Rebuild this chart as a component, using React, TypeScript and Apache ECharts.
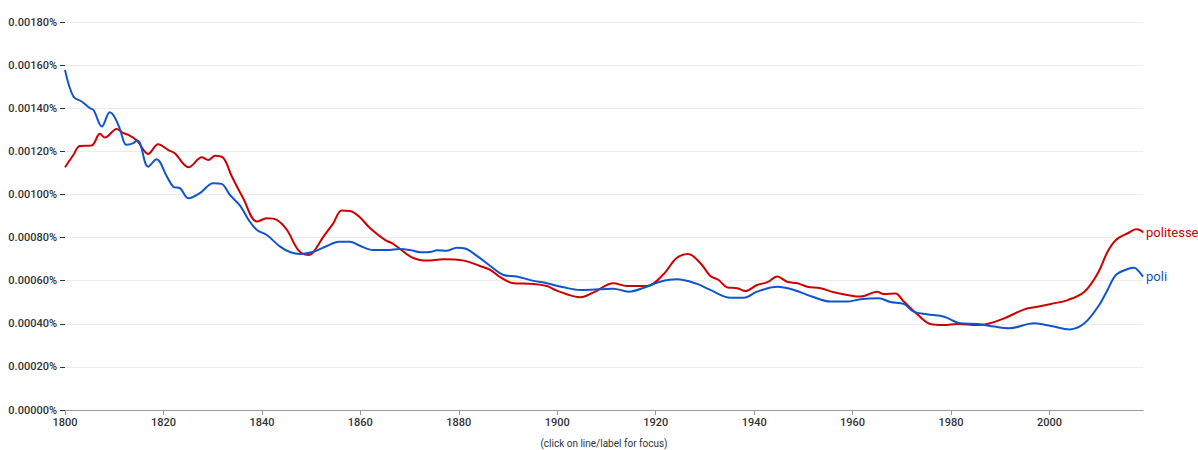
import React, { useEffect, useRef } from "react";
import * as echarts from "echarts";

const poliYears = [1800, 1801.7, 1803.4, 1805.1, 1805.8, 1807.5, 1809.1, 1810.2, 1811.2, 1812.5, 1813.9, 1814.6, 1815.2, 1816.9, 1818.6, 1820.7, 1822, 1823.4, 1825.1, 1827.4, 1830.1, 1831.8, 1833.5, 1835.6, 1837.3, 1839, 1841, 1843.7, 1845.8, 1847.8, 1850.5, 1853.2, 1855.6, 1857.9, 1859.9, 1862.6, 1865.4, 1868.1, 1870.1, 1872.2, 1874.2, 1875.6, 1877.6, 1879.6, 1881.3, 1883.7, 1886.4, 1889.1, 1891.8, 1895.2, 1897.9, 1901.3, 1904.7, 1908.7, 1911.4, 1914.5, 1918.2, 1920.9, 1924.3, 1928.4, 1931.1, 1935.2, 1937.9, 1940.6, 1944.7, 1948.1, 1951.4, 1955.5, 1958.9, 1961.6, 1965.3, 1967.7, 1970.4, 1972.4, 1975.1, 1978.6, 1981.9, 1985.4, 1988.8, 1991.8, 1996.9, 2000.3, 2004.1, 2007.1, 2010.1, 2011.8, 2013.5, 2015.9, 2017.2, 2018.2, 2019];
const poliValues = [0.001578, 0.001454, 0.001431, 0.0014, 0.001392, 0.001315, 0.001381, 0.001354, 0.0013, 0.00123, 0.001238, 0.00125, 0.00124, 0.001129, 0.001163, 0.001083, 0.001036, 0.001028, 0.000982, 0.001006, 0.001052, 0.001049, 0.000998, 0.000947, 0.000882, 0.000835, 0.000812, 0.000758, 0.000732, 0.000724, 0.000734, 0.000761, 0.000781, 0.000781, 0.000762, 0.000742, 0.000742, 0.000747, 0.000742, 0.000732, 0.000733, 0.000741, 0.000739, 0.000753, 0.000749, 0.000715, 0.000668, 0.000626, 0.000619, 0.000599, 0.000588, 0.000569, 0.000557, 0.00056, 0.000563, 0.000549, 0.000572, 0.000595, 0.000606, 0.000585, 0.000557, 0.000521, 0.000521, 0.000549, 0.000572, 0.000557, 0.000529, 0.000503, 0.000503, 0.000514, 0.000518, 0.000501, 0.000492, 0.000456, 0.000444, 0.000433, 0.000402, 0.000399, 0.000387, 0.000379, 0.000402, 0.00039, 0.000374, 0.000402, 0.000487, 0.000557, 0.000626, 0.000654, 0.00066, 0.000642, 0.000619];

const politesseYears = [1800, 1801.7, 1803, 1805.4, 1807.1, 1808.1, 1810.5, 1811.9, 1812.9, 1814.6, 1816.9, 1818.9, 1821, 1822.3, 1825.1, 1827.8, 1829.1, 1830.5, 1832.2, 1833.9, 1836.2, 1839, 1841, 1843, 1845.1, 1847.4, 1849.5, 1850.5, 1852.5, 1854.5, 1856.2, 1857.9, 1859.9, 1862, 1865, 1866.7, 1870.5, 1873.5, 1876.9, 1881, 1884.3, 1886.4, 1888.4, 1891.1, 1895.2, 1897.9, 1899.9, 1904.7, 1907.4, 1911.4, 1914.2, 1918.2, 1921.6, 1924.2, 1926.6, 1929.1, 1931.1, 1932.8, 1934.5, 1936.6, 1938.2, 1940.6, 1942.7, 1944.7, 1946.7, 1948.8, 1950.8, 1953.5, 1956.2, 1958.9, 1961.6, 1965, 1966.3, 1968.7, 1970.4, 1973.1, 1975.8, 1978.6, 1981.3, 1985.4, 1987.4, 1990.8, 1994.9, 1997.6, 2000.3, 2003.7, 2007.1, 2009.8, 2011.8, 2013.5, 2015.9, 2017.6, 2018.6, 2019];
const politesseValues = [0.001126, 0.001183, 0.001225, 0.001227, 0.001281, 0.001264, 0.001304, 0.001284, 0.001276, 0.00125, 0.001188, 0.001233, 0.001206, 0.001191, 0.001126, 0.001172, 0.00116, 0.001179, 0.001168, 0.001083, 0.000982, 0.000874, 0.000889, 0.000882, 0.000835, 0.000742, 0.000719, 0.000734, 0.000804, 0.000866, 0.000925, 0.000923, 0.000894, 0.000843, 0.000789, 0.00077, 0.000708, 0.000693, 0.000699, 0.000693, 0.000668, 0.00065, 0.000616, 0.000588, 0.000585, 0.000575, 0.000554, 0.000523, 0.000546, 0.000588, 0.000575, 0.000575, 0.00063, 0.000704, 0.000724, 0.000681, 0.000622, 0.000603, 0.000569, 0.000565, 0.000552, 0.00058, 0.000593, 0.000619, 0.000595, 0.000588, 0.000572, 0.000565, 0.000546, 0.000534, 0.000526, 0.000549, 0.000538, 0.000541, 0.000503, 0.000445, 0.000399, 0.000394, 0.000399, 0.000394, 0.000399, 0.000425, 0.000467, 0.000479, 0.000492, 0.00051, 0.000549, 0.000634, 0.000734, 0.000789, 0.00082, 0.000838, 0.000832, 0.000823];

const seriesNames = ["politesse", "poli"];
const seriesColors = ["#cc0000", "#1155cc"];
const xLabelNote = "(click on line/label for focus)";

export default function App() {
  const ref = useRef<HTMLDivElement>(null);
  useEffect(() => {
    document.body.style.margin = "0";
    const chart = echarts.init(ref.current!, undefined, { renderer: "svg" });
    const pairs = (ys: number[], vs: number[]) => ys.map((y, i) => [y, vs[i]]);
    const font = "Roboto, 'Noto Sans', sans-serif";
    chart.setOption({
      animation: false,
      textStyle: { fontFamily: font },
      grid: { left: 65, right: 55, top: 22, bottom: 40, outerBoundsMode: "none", containLabel: false },
      xAxis: {
        type: "value",
        min: 1800,
        max: 2019,
        interval: 20,
        axisLine: { show: true, lineStyle: { color: "#999", width: 1 } },
        axisTick: { show: true, length: 5, lineStyle: { color: "#999" } },
        axisLabel: { color: "#333", fontSize: 11, fontWeight: 500, showMaxLabel: false, formatter: (v: number) => String(v), margin: 7 },
        splitLine: { show: false },
        name: xLabelNote,
        nameLocation: "middle",
        nameGap: 33,
        nameTextStyle: { color: "#333", fontSize: 10, verticalAlign: "middle" },
      },
      yAxis: {
        type: "value",
        min: 0,
        max: 0.0018,
        interval: 0.0002,
        axisLine: { show: false },
        axisTick: { show: true, length: 5, lineStyle: { color: "#333" } },
        axisLabel: { color: "#333", fontSize: 11, fontWeight: 500, margin: 8, formatter: (v: number) => v.toFixed(5) + "%" },
        splitLine: { show: true, lineStyle: { color: "#ececec", width: 1 } },
      },
      series: [
        {
          name: seriesNames[0],
          type: "line",
          data: pairs(politesseYears, politesseValues),
          smooth: 0.35,
          showSymbol: false,
          lineStyle: { color: seriesColors[0], width: 2 },
          itemStyle: { color: seriesColors[0] },
          endLabel: { show: true, formatter: seriesNames[0], color: seriesColors[0], fontSize: 13, distance: 3 },
        },
        {
          name: seriesNames[1],
          type: "line",
          data: pairs(poliYears, poliValues),
          smooth: 0.35,
          showSymbol: false,
          lineStyle: { color: seriesColors[1], width: 2 },
          itemStyle: { color: seriesColors[1] },
          endLabel: { show: true, formatter: seriesNames[1], color: seriesColors[1], fontSize: 13, distance: 3 },
        },
      ],
    });
    return () => chart.dispose();
  }, []);
  return <div ref={ref} style={{ width: 1198, height: 450 }} />;
}
